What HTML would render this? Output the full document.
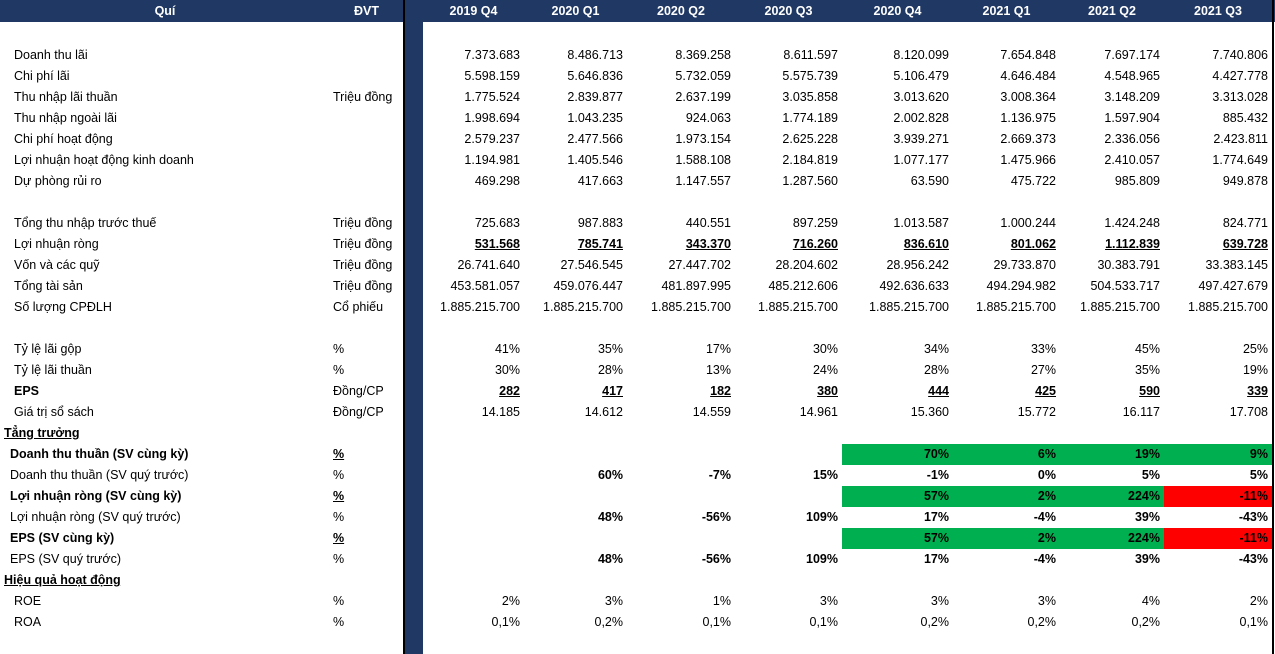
<!DOCTYPE html>
<html><head><meta charset="utf-8"><style>
*{margin:0;padding:0;box-sizing:border-box}
body{width:1275px;height:635px;background:#fff;overflow:hidden;font-family:"Liberation Sans",sans-serif;font-size:12.5px;color:#000}
table{border-collapse:collapse;table-layout:fixed;width:1275px}
td{height:21px;white-space:nowrap;overflow:hidden;padding:0;text-align:right;padding-right:4px;line-height:21px}
td.l{text-align:left;padding-left:14px}
td.u{text-align:left;padding-left:3px}
td.bar{background:#203864;border-left:2px solid #000;padding:0}
td.rb{border-left:2px solid #000;padding:0}
tr.h td{height:22px;background:#203864;color:#fff;font-weight:bold;text-align:center;padding:0}
tr.sp td{height:23px}
.b{font-weight:bold}.ul{font-weight:bold;text-decoration:underline}
.g{background:#00b050}.r{background:#ff0000}
td.s{text-align:left;padding-left:4px;font-weight:bold;text-decoration:underline}
tr.gb td.l{padding-left:10px;font-weight:bold}
tr.gn td.l{padding-left:10px}
tr.gb td,tr.gn td{font-weight:bold}
tr.gn td.l{font-weight:normal}tr.gn td.u{font-weight:normal}
</style></head><body>
<table>
<colgroup><col style="width:330px"><col style="width:74px"><col style="width:19px"><col style="width:101px"><col style="width:103px"><col style="width:108px"><col style="width:107px"><col style="width:111px"><col style="width:107px"><col style="width:104px"><col style="width:109px"><col style="width:2px"></colgroup>
<tr class="h"><td>Quí</td><td>ĐVT</td><td class="bar"></td><td>2019 Q4</td><td>2020 Q1</td><td>2020 Q2</td><td>2020 Q3</td><td>2020 Q4</td><td>2021 Q1</td><td>2021 Q2</td><td>2021 Q3</td><td class="rb" style="background:#203864"></td></tr>
<tr class="sp"><td></td><td></td><td class="bar"></td><td></td><td></td><td></td><td></td><td></td><td></td><td></td><td></td><td class="rb"></td></tr>
<tr><td class="l">Doanh thu lãi</td><td class="u"></td><td class="bar"></td><td>7.373.683</td><td>8.486.713</td><td>8.369.258</td><td>8.611.597</td><td>8.120.099</td><td>7.654.848</td><td>7.697.174</td><td>7.740.806</td><td class="rb"></td></tr>
<tr><td class="l">Chi phí lãi</td><td class="u"></td><td class="bar"></td><td>5.598.159</td><td>5.646.836</td><td>5.732.059</td><td>5.575.739</td><td>5.106.479</td><td>4.646.484</td><td>4.548.965</td><td>4.427.778</td><td class="rb"></td></tr>
<tr><td class="l">Thu nhập lãi thuần</td><td class="u">Triệu đồng</td><td class="bar"></td><td>1.775.524</td><td>2.839.877</td><td>2.637.199</td><td>3.035.858</td><td>3.013.620</td><td>3.008.364</td><td>3.148.209</td><td>3.313.028</td><td class="rb"></td></tr>
<tr><td class="l">Thu nhập ngoài lãi</td><td class="u"></td><td class="bar"></td><td>1.998.694</td><td>1.043.235</td><td>924.063</td><td>1.774.189</td><td>2.002.828</td><td>1.136.975</td><td>1.597.904</td><td>885.432</td><td class="rb"></td></tr>
<tr><td class="l">Chi phí hoạt động</td><td class="u"></td><td class="bar"></td><td>2.579.237</td><td>2.477.566</td><td>1.973.154</td><td>2.625.228</td><td>3.939.271</td><td>2.669.373</td><td>2.336.056</td><td>2.423.811</td><td class="rb"></td></tr>
<tr><td class="l">Lợi nhuận hoạt động kinh doanh</td><td class="u"></td><td class="bar"></td><td>1.194.981</td><td>1.405.546</td><td>1.588.108</td><td>2.184.819</td><td>1.077.177</td><td>1.475.966</td><td>2.410.057</td><td>1.774.649</td><td class="rb"></td></tr>
<tr><td class="l">Dự phòng rủi ro</td><td class="u"></td><td class="bar"></td><td>469.298</td><td>417.663</td><td>1.147.557</td><td>1.287.560</td><td>63.590</td><td>475.722</td><td>985.809</td><td>949.878</td><td class="rb"></td></tr>
<tr><td></td><td></td><td class="bar"></td><td></td><td></td><td></td><td></td><td></td><td></td><td></td><td></td><td class="rb"></td></tr>
<tr><td class="l">Tổng thu nhập trước thuế</td><td class="u">Triệu đồng</td><td class="bar"></td><td>725.683</td><td>987.883</td><td>440.551</td><td>897.259</td><td>1.013.587</td><td>1.000.244</td><td>1.424.248</td><td>824.771</td><td class="rb"></td></tr>
<tr><td class="l">Lợi nhuận ròng</td><td class="u">Triệu đồng</td><td class="bar"></td><td class="ul">531.568</td><td class="ul">785.741</td><td class="ul">343.370</td><td class="ul">716.260</td><td class="ul">836.610</td><td class="ul">801.062</td><td class="ul">1.112.839</td><td class="ul">639.728</td><td class="rb"></td></tr>
<tr><td class="l">Vốn và các quỹ</td><td class="u">Triệu đồng</td><td class="bar"></td><td>26.741.640</td><td>27.546.545</td><td>27.447.702</td><td>28.204.602</td><td>28.956.242</td><td>29.733.870</td><td>30.383.791</td><td>33.383.145</td><td class="rb"></td></tr>
<tr><td class="l">Tổng tài sản</td><td class="u">Triệu đồng</td><td class="bar"></td><td>453.581.057</td><td>459.076.447</td><td>481.897.995</td><td>485.212.606</td><td>492.636.633</td><td>494.294.982</td><td>504.533.717</td><td>497.427.679</td><td class="rb"></td></tr>
<tr><td class="l">Số lượng CPĐLH</td><td class="u">Cổ phiếu</td><td class="bar"></td><td>1.885.215.700</td><td>1.885.215.700</td><td>1.885.215.700</td><td>1.885.215.700</td><td>1.885.215.700</td><td>1.885.215.700</td><td>1.885.215.700</td><td>1.885.215.700</td><td class="rb"></td></tr>
<tr><td></td><td></td><td class="bar"></td><td></td><td></td><td></td><td></td><td></td><td></td><td></td><td></td><td class="rb"></td></tr>
<tr><td class="l">Tỷ lệ lãi gộp</td><td class="u">%</td><td class="bar"></td><td>41%</td><td>35%</td><td>17%</td><td>30%</td><td>34%</td><td>33%</td><td>45%</td><td>25%</td><td class="rb"></td></tr>
<tr><td class="l">Tỷ lệ lãi thuần</td><td class="u">%</td><td class="bar"></td><td>30%</td><td>28%</td><td>13%</td><td>24%</td><td>28%</td><td>27%</td><td>35%</td><td>19%</td><td class="rb"></td></tr>
<tr><td class="l b">EPS</td><td class="u">Đồng/CP</td><td class="bar"></td><td class="ul">282</td><td class="ul">417</td><td class="ul">182</td><td class="ul">380</td><td class="ul">444</td><td class="ul">425</td><td class="ul">590</td><td class="ul">339</td><td class="rb"></td></tr>
<tr><td class="l">Giá trị sổ sách</td><td class="u">Đồng/CP</td><td class="bar"></td><td>14.185</td><td>14.612</td><td>14.559</td><td>14.961</td><td>15.360</td><td>15.772</td><td>16.117</td><td>17.708</td><td class="rb"></td></tr>
<tr><td class="s">Tẳng trưởng</td><td></td><td class="bar"></td><td></td><td></td><td></td><td></td><td></td><td></td><td></td><td></td><td class="rb"></td></tr>
<tr class="gb"><td class="l">Doanh thu thuần (SV cùng kỳ)</td><td class="u" style="text-decoration:underline">%</td><td class="bar"></td><td></td><td></td><td></td><td></td><td class="g">70%</td><td class="g">6%</td><td class="g">19%</td><td class="g">9%</td><td class="rb"></td></tr>
<tr class="gn"><td class="l">Doanh thu thuần (SV quý trước)</td><td class="u">%</td><td class="bar"></td><td></td><td>60%</td><td>-7%</td><td>15%</td><td>-1%</td><td>0%</td><td>5%</td><td>5%</td><td class="rb"></td></tr>
<tr class="gb"><td class="l">Lợi nhuận ròng (SV cùng kỳ)</td><td class="u" style="text-decoration:underline">%</td><td class="bar"></td><td></td><td></td><td></td><td></td><td class="g">57%</td><td class="g">2%</td><td class="g">224%</td><td class="r">-11%</td><td class="rb"></td></tr>
<tr class="gn"><td class="l">Lợi nhuận ròng (SV quý trước)</td><td class="u">%</td><td class="bar"></td><td></td><td>48%</td><td>-56%</td><td>109%</td><td>17%</td><td>-4%</td><td>39%</td><td>-43%</td><td class="rb"></td></tr>
<tr class="gb"><td class="l">EPS (SV cùng kỳ)</td><td class="u" style="text-decoration:underline">%</td><td class="bar"></td><td></td><td></td><td></td><td></td><td class="g">57%</td><td class="g">2%</td><td class="g">224%</td><td class="r">-11%</td><td class="rb"></td></tr>
<tr class="gn"><td class="l">EPS (SV quý trước)</td><td class="u">%</td><td class="bar"></td><td></td><td>48%</td><td>-56%</td><td>109%</td><td>17%</td><td>-4%</td><td>39%</td><td>-43%</td><td class="rb"></td></tr>
<tr><td class="s">Hiệu quả hoạt động</td><td></td><td class="bar"></td><td></td><td></td><td></td><td></td><td></td><td></td><td></td><td></td><td class="rb"></td></tr>
<tr><td class="l">ROE</td><td class="u">%</td><td class="bar"></td><td>2%</td><td>3%</td><td>1%</td><td>3%</td><td>3%</td><td>3%</td><td>4%</td><td>2%</td><td class="rb"></td></tr>
<tr><td class="l">ROA</td><td class="u">%</td><td class="bar"></td><td>0,1%</td><td>0,2%</td><td>0,1%</td><td>0,1%</td><td>0,2%</td><td>0,2%</td><td>0,2%</td><td>0,1%</td><td class="rb"></td></tr>
<tr><td></td><td></td><td class="bar"></td><td></td><td></td><td></td><td></td><td></td><td></td><td></td><td></td><td class="rb"></td></tr>
</table>
</body></html>
